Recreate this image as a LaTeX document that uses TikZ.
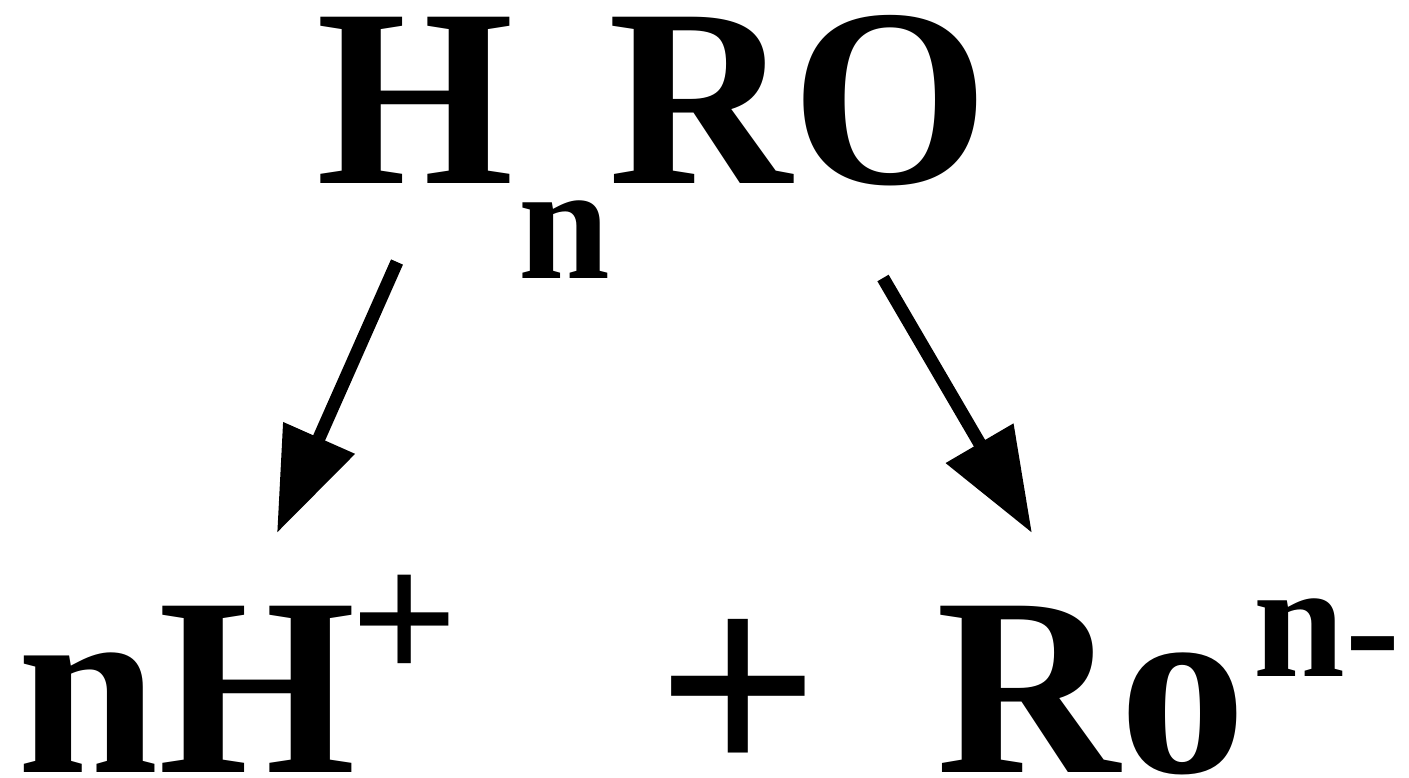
\documentclass[tikz,border=0pt]{standalone}
\usepackage{fontspec}
\setmainfont{Liberation Serif}
\usetikzlibrary{arrows.meta}

\newcommand{\bigbf}[1]{\fontsize{#1}{#1}\selectfont\bfseries}

\tikzset{every picture/.style={line width=0.75pt}}
\tikzset{
formula/.style={anchor=base west, inner sep=0pt, text depth=0pt, text height=#1},
formula/.default=176pt,
splitarrow/.style={line width=13pt, -{Triangle[length=104pt, width=75pt]}}
}

\begin{document}
\begin{tikzpicture}[x=1pt,y=1pt,yscale=-1,xscale=1]
%set diagram left start at 0, and has height of 777
\useasboundingbox (0,0) rectangle (1409,777);

% Text Node
\draw (316,183) node (htop) [formula] {\bigbf{254pt}H};
% Text Node
\draw (518,278) node (nsub) [formula=80pt] {\bigbf{165pt}n};
% Text Node
\draw (608,183) node (rotop) [formula] {\bigbf{254pt}RO};

% Text Node
\draw (17,772) node (nh) [formula] {\bigbf{254pt}nH};
% Text Node
\draw (350,665) node (hplus) [formula=91pt] {\bigbf{190pt}\raisebox{-17.5pt}{+}};
% Text Node
\draw (656,755) node (plus) [formula=138pt] {\bigbf{287pt}\raisebox{-26pt}{+}};
% Text Node
\draw (936,772) node (ro) [formula] {\bigbf{254pt}Ro};
% Text Node
\draw (1253,676) node (ncharge) [formula=80pt] {\bigbf{165pt}n\raisebox{-6pt}{-}};

%Straight Lines
\coordinate (lstart) at (397,262);
\coordinate (ltip) at (277,533);
\draw [splitarrow] (lstart) -- (ltip);
%Straight Lines
\coordinate (rstart) at (883,278);
\coordinate (rtip) at (1032,533);
\draw [splitarrow] (rstart) -- (rtip);

\end{tikzpicture}
\end{document}
